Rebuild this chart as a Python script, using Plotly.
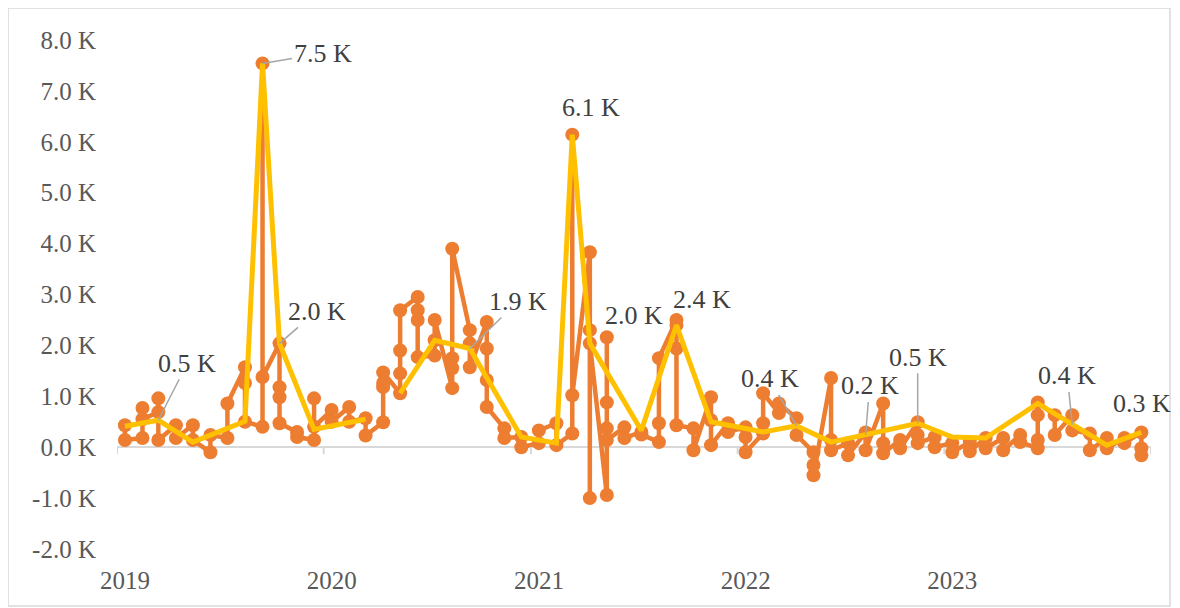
import plotly.graph_objects as go

# monthly points (15th of each month), several entries per month, values in K
months = [f"{y}-{m:02d}-15" for y in range(2019, 2024) for m in range(1, 13)]

orange_by_month = [
    [0.43, 0.14],               # 2019-01
    [0.18, 0.77, 0.55],
    [0.69, 0.96, 0.14],
    [0.43, 0.18],
    [0.43, 0.14],
    [-0.10, 0.24],
    [0.18, 0.86],
    [1.57, 1.26, 0.50],
    [0.40, 7.54, 1.38],
    [2.04, 1.18, 0.98, 0.47],
    [0.30, 0.20],
    [0.14, 0.96, 0.40],
    [0.73, 0.50],               # 2020-01
    [0.79, 0.50],
    [0.57, 0.23],
    [0.49, 1.18, 1.26, 1.47],
    [1.06, 1.45, 1.90, 2.69],
    [2.95, 2.69, 2.50, 1.77],
    [1.80, 2.10, 2.50],
    [1.16, 1.55, 1.75, 3.90],
    [2.30, 2.04, 1.57],
    [2.46, 1.94, 1.32, 0.79],
    [0.37, 0.18],
    [0.20, 0.00],
    [0.08, 0.33],               # 2021-01
    [0.47, 0.04],
    [0.27, 6.14, 1.02],
    [3.83, -1.00, 2.30, 2.04],
    [-0.94, 2.16, 0.88, 0.37, 0.14],
    [0.39, 0.18],
    [0.30, 0.25],
    [0.10, 0.47, 1.75],
    [2.50, 2.40, 1.94, 0.43],
    [0.37, -0.06],
    [0.98, 0.53, 0.04],
    [0.47, 0.30],
    [0.39, 0.20, -0.10],        # 2022-01
    [0.27, 0.47, 1.06],
    [0.67, 0.86],
    [0.57, 0.24],
    [-0.10, -0.35, -0.55],
    [1.36, 0.14, -0.06],
    [0.08, -0.16],
    [0.29, -0.06],
    [0.86, 0.08, -0.12],
    [0.14, -0.02],
    [0.49, 0.24, 0.08],
    [0.20, 0.00],
    [0.08, -0.10],              # 2023-01
    [0.10, -0.08],
    [0.18, -0.02],
    [0.18, -0.06],
    [0.24, 0.10],
    [-0.02, 0.14, 0.63, 0.88],
    [0.63, 0.24],
    [0.63, 0.33],
    [0.27, -0.06],
    [0.18, -0.02],
    [0.18, 0.08],
    [0.29, -0.02, -0.16],
]

yellow_dates = [
    "2019-01-15", "2019-03-15", "2019-05-15", "2019-08-15", "2019-09-15",
    "2019-10-15", "2019-12-15", "2020-03-15", "2020-04-15", "2020-05-15",
    "2020-07-15", "2020-09-15", "2020-12-15", "2021-02-15", "2021-03-15",
    "2021-04-15", "2021-07-15", "2021-09-15", "2021-11-15", "2022-02-15",
    "2022-04-15", "2022-06-15", "2022-08-15", "2022-11-15", "2023-01-15",
    "2023-03-15", "2023-06-15", "2023-08-15", "2023-10-15", "2023-12-15",
]
yellow_values = [
    0.41, 0.53, 0.10, 0.51, 7.54,
    2.04, 0.35, 0.55, None, 1.06,
    2.10, 1.94, 0.20, 0.08, 6.14,
    2.04, 0.33, 2.40, 0.50, 0.30,
    0.42, 0.10, 0.24, 0.47, 0.20,
    0.18, 0.86, 0.44, 0.04, 0.29,
]

# which yellow points carry a data label
labelled = ["2019-03-15", "2019-09-15", "2019-10-15", "2020-09-15", "2021-03-15",
            "2021-04-15", "2021-09-15", "2022-04-15", "2022-08-15", "2022-11-15",
            "2023-08-15", "2023-12-15"]

year_ticks = ["2019", "2020", "2021", "2022", "2023"]
y_ticks = [-2, -1, 0, 1, 2, 3, 4, 5, 6, 7, 8]

o_x, o_y = [], []
for d, vals in zip(months, orange_by_month):
    for v in vals:
        o_x.append(d)
        o_y.append(v)

ORANGE = "#ED7D31"
YELLOW = "#FFC000"
SERIF = "Liberation Serif"

fig = go.Figure()
fig.add_trace(go.Scatter(
    x=o_x, y=o_y, mode="lines+markers",
    line=dict(color=ORANGE, width=4.5),
    marker=dict(color=ORANGE, size=14),
    showlegend=False,
))
fig.add_trace(go.Scatter(
    x=yellow_dates, y=yellow_values, mode="lines",
    line=dict(color=YELLOW, width=5),
    connectgaps=False, showlegend=False,
))

# label offsets (px) and whether a leader line is drawn
label_style = [
    (29, -57, True), (60, -10, True), (37, -32, True), (48, -47, True),
    (19, -27, False), (44, -28, False), (26, -26, False), (-27, -47, True),
    (4, -49, True), (0, -66, True), (-5, -49, True), (1, -29, False),
]
for d, (ax, ay, leader) in zip(labelled, label_style):
    v = yellow_values[yellow_dates.index(d)]
    fig.add_annotation(
        x=d, y=v, text=f"{v:.1f} K", showarrow=True, arrowhead=0,
        arrowwidth=1.5, arrowcolor="#A6A6A6" if leader else "rgba(0,0,0,0)",
        ax=ax, ay=ay, font=dict(family=SERIF, size=26, color="#404040"),
    )

# small tick marks on the zero line at each year boundary
for yr in ["2019", "2020", "2021", "2022", "2023", "2024"]:
    fig.add_shape(type="line", xref="x", yref="y", x0=f"{yr}-01-01", x1=f"{yr}-01-01",
                  ysizemode="pixel", yanchor=0, y0=0, y1=-7,
                  line=dict(color="#D9D9D9", width=2))

# chart frame
fig.add_shape(type="rect", xref="paper", yref="paper",
              x0=-0.1054, x1=1.0184, y0=-0.112, y1=1.063,
              line=dict(color="#D9D9D9", width=1.5), layer="below")

# page body has an 8px margin, so the figure is 8px smaller than the window
fig.update_layout(
    width=1172, height=600,
    margin=dict(l=109, r=29, t=32, b=59),
    plot_bgcolor="white", paper_bgcolor="white",
    font=dict(family=SERIF, color="#595959"),
    xaxis=dict(
        range=["2019-01-01", "2024-01-01"],
        tickvals=[f"{y}-01-01" for y in year_ticks], ticktext=year_ticks,
        showgrid=False, zeroline=False, showline=False, ticks="",
        tickfont=dict(family=SERIF, size=25, color="#595959"),
        ticklabelstandoff=14, ticklabelshift=8,
    ),
    yaxis=dict(
        range=[-2, 8], tickvals=y_ticks,
        ticktext=[f"{v:.1f} K" for v in y_ticks],
        showgrid=False, zeroline=True, zerolinecolor="#D9D9D9", zerolinewidth=2,
        showline=False, ticks="",
        tickfont=dict(family=SERIF, size=25, color="#595959"),
        ticklabelstandoff=20,
    ),
)

fig.write_html("out.html")
